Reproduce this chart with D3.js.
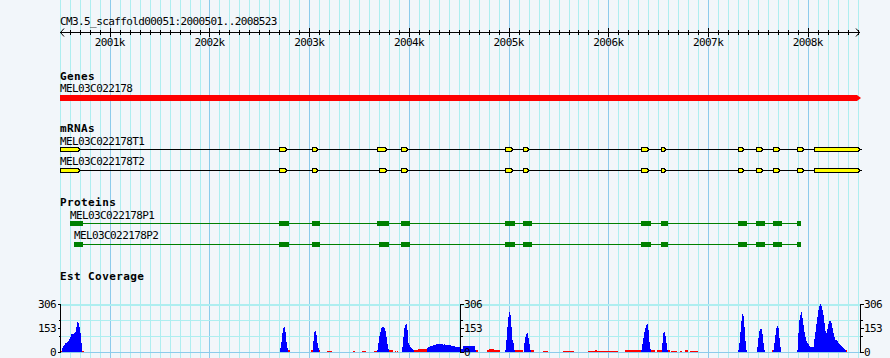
<!DOCTYPE html>
<html><head><meta charset="utf-8">
<script src="https://cdn.jsdelivr.net/npm/d3@7"></script>
<style>
body{margin:0;background:#f2f6fa}
svg{display:block}
.t{font-family:"DejaVu Sans Mono",monospace;font-size:11px;letter-spacing:-0.6px;fill:#000}
.b{font-family:"DejaVu Sans Mono",monospace;font-size:11px;font-weight:bold;letter-spacing:0.4px;fill:#000}
</style>
</head><body><svg id="c" width="890" height="358"></svg>
<script>
// ---------- data ----------
const regionName = "CM3.5_scaffold00051";
const regionStart = 2000501;
const regionEnd = 2008523;
const rulerMajorTicks = [2001000, 2002000, 2003000, 2004000, 2005000, 2006000, 2007000, 2008000];
const rulerTickLabels = ["2001k", "2002k", "2003k", "2004k", "2005k", "2006k", "2007k", "2008k"];
const trackTitles = ["Genes", "mRNAs", "Proteins", "Est Coverage"];

const geneName = "MEL03C022178";
const geneSpan = [2000501, 2008523];

const mrnaNames = ["MEL03C022178T1", "MEL03C022178T2"];
const mrnaSpan = [2000501, 2008523];
const mrnaT1Exons = [[2000501,2000702],[2002697,2002777],[2003028,2003091],[2003680,2003777],[2003920,2003988],[2004963,2005046],[2005147,2005207],[2006327,2006410],[2006528,2006578],[2007303,2007363],[2007483,2007550],[2007651,2007721],[2007891,2007962],[2008062,2008523]];
const mrnaT2Exons = [[2000501,2000702],[2002697,2002777],[2003028,2003091],[2003703,2003777],[2003920,2003988],[2004963,2005046],[2005147,2005207],[2006327,2006410],[2006528,2006578],[2007303,2007363],[2007483,2007550],[2007651,2007721],[2007891,2007962],[2008062,2008523]];

const proteinNames = ["MEL03C022178P1", "MEL03C022178P2"];
const proteinP1Cds = [[2000601,2000729],[2002700,2002797],[2003028,2003108],[2003680,2003800],[2003920,2004011],[2004963,2005063],[2005147,2005234],[2006327,2006427],[2006528,2006598],[2007303,2007390],[2007483,2007570],[2007651,2007741],[2007891,2007931]];
const proteinP2Cds = [[2000641,2000729],[2002700,2002797],[2003028,2003108],[2003703,2003800],[2003920,2004011],[2004963,2005063],[2005147,2005234],[2006327,2006427],[2006528,2006598],[2007303,2007390],[2007483,2007570],[2007651,2007741],[2007891,2007931]];

const coverageMax = 306;
const coverageTickLabels = [0, 153, 306];
const coverageMinorTicks = [102, 204];
const coverageBin = 10; // bp per value
const estPeakStarts = [2000521, 2002707, 2003038, 2003680, 2003930, 2004181, 2004963, 2005154, 2006327, 2006538, 2007300, 2007490, 2007651, 2007891];
const estPeakValues = [
  [23,38,45,55,60,66,72,81,98,115,115,115,122,130,161,193,183,157,119,60],
  [23,66,119,151,161,130,66,23],
  [70,125,136,110,60,25],
  [15,55,100,130,150,160,161,150,136,95,50,20],
  [30,98,150,172,178,140,60,45,34,28,20,13],
  [28,34,34,38,40,40,42,44,46,48,48,50,50,48,50,48,46,48,46,45,45,44,42,42,40,40,38,36,32,30,30,32,30,24,22,22,38,40,40,40,40,40,40,40,38,38,38,38,15],
  [15,76,161,225,255,236,161,76,55,15],
  [55,98,115,119,90,50,15],
  [13,50,90,125,151,172,176,140,65,20],
  [60,120,127,105,55,15],
  [13,60,130,200,245,230,160,70,15],
  [30,90,135,148,145,115,55,15],
  [13,55,110,150,168,150,90,30],
  [13,120,204,236,257,215,170,130,95,70,58,48,40,34,31,30,35,85,130,180,225,270,295,306,295,270,235,185,135,122,145,180,200,200,185,150,120,95,76,74,72,60,52,45,38,34,25,18,10]
];
// low-depth coverage segments: [start, end, value]
const estLowSegments = [[2000501,2000521,8],[2000722,2000742,6],[2002787,2002807,12],[2003018,2003038,15],[2003088,2003108,12],[2003178,2003229,8],[2003439,2003459,8],[2003529,2003569,8],[2003650,2003680,8],[2003790,2003840,13],[2003860,2003870,8],[2003880,2003890,8],[2004041,2004091,15],[2004091,2004181,20],[2004662,2004692,13],[2004783,2004913,13],[2004803,2004853,17],[2005054,2005144,13],[2005214,2005254,10],[2005344,2005394,8],[2005545,2005655,8],[2005796,2006096,8],[2005866,2005886,13],[2006167,2006327,10],[2006197,2006237,15],[2006417,2006467,10],[2006487,2006538,10],[2006588,2006618,10],[2006628,2006688,8],[2006718,2006738,8],[2006768,2006798,12],[2006818,2006898,8],[2007370,2007390,10],[2007641,2007661,10],[2008333,2008393,15]];

// ---------- drawing ----------
const svg = d3.select("#c");
const W = 890, H = 358;
svg.append("rect").attr("width", W).attr("height", H).attr("fill", "#f2f6fa");

const x = d3.scaleLinear().domain([regionStart, regionEnd]).range([60, 860]);
const px = v => Math.round(x(v)) + 0.5;

// vertical grid
const gridTicks = d3.range(Math.ceil((regionStart - 1) / 100) * 100, regionEnd + 1, 100);
const grid = svg.append("g").attr("shape-rendering", "crispEdges");
grid.selectAll("line").data(gridTicks).join("line")
  .attr("x1", d => px(d)).attr("x2", d => px(d))
  .attr("y1", 0).attr("y2", H)
  .attr("stroke", d => d % 1000 === 0 ? "#8ccbeb" : "#aeeef0").attr("stroke-width", 1);

// coverage y scale + horizontal grid
const y = d3.scaleLinear().domain([0, coverageMax]).range([352, 304]);
const hgrid = [0, ...coverageMinorTicks, coverageMax];
grid.selectAll("line.h").data(hgrid).join("line").attr("class", "h")
  .attr("x1", 60).attr("x2", 860)
  .attr("y1", d => Math.round(y(d)) + 0.5).attr("y2", d => Math.round(y(d)) + 0.5)
  .attr("stroke", d => d === 0 ? "#8ccbeb" : "#aeeef0")
  .attr("stroke-width", d => d === coverageMax ? 2 : 1);

// title + ruler
svg.append("text").attr("class", "t").attr("x", 60).attr("y", 25)
  .text(`${regionName}:${regionStart}..${regionEnd}`);
const ruler = svg.append("g").attr("shape-rendering", "crispEdges");
ruler.append("line").attr("x1", 60).attr("x2", 860).attr("y1", 32.5).attr("y2", 32.5).attr("stroke", "#000");
const minorTicks = gridTicks.filter(d => d % 1000 !== 0 && d >= regionStart);
ruler.selectAll("line.mi").data(minorTicks).join("line").attr("class", "mi")
  .attr("x1", d => px(d)).attr("x2", d => px(d)).attr("y1", 30).attr("y2", 35).attr("stroke", "#000");
ruler.selectAll("line.ma").data(rulerMajorTicks).join("line").attr("class", "ma")
  .attr("x1", d => px(d)).attr("x2", d => px(d)).attr("y1", 28).attr("y2", 37).attr("stroke", "#000");
svg.selectAll("text.rl").data(rulerMajorTicks).join("text").attr("class", "t rl")
  .attr("x", d => x(d)).attr("y", 46).attr("text-anchor", "middle")
  .text((d, i) => rulerTickLabels[i]);
svg.append("path").attr("d", "M64,28.5L60.5,32.5L64,36.5").attr("fill", "none").attr("stroke", "#000");
svg.append("path").attr("d", "M856,28.5L859.5,32.5L856,36.5").attr("fill", "none").attr("stroke", "#000");

// track titles
const titleY = [80, 132, 205.5, 280];
trackTitles.forEach((t, i) => svg.append("text").attr("class", "b").attr("x", 60).attr("y", titleY[i]).text(t));

// gene
svg.append("text").attr("class", "t").attr("x", x(geneSpan[0])).attr("y", 92).text(geneName);
{
  const x0 = x(geneSpan[0]), x1 = x(geneSpan[1]);
  svg.append("path").attr("fill", "#ff0000")
    .attr("d", `M${x0},95L${x1 - 3},95L${x1 + 1},98L${x1 - 3},101L${x0},101Z`);
}

// mRNAs
function drawMrna(exons, label, labelY, cy) {
  svg.append("text").attr("class", "t").attr("x", x(mrnaSpan[0])).attr("y", labelY).text(label);
  svg.append("line").attr("x1", x(mrnaSpan[0])).attr("x2", x(mrnaSpan[1]))
    .attr("y1", cy).attr("y2", cy).attr("stroke", "#000").attr("shape-rendering", "crispEdges");
  svg.append("g").attr("shape-rendering", "crispEdges").selectAll("path").data(exons).join("path")
    .attr("fill", "#ffff00").attr("stroke", "#000").attr("stroke-width", 1)
    .attr("d", d => {
      const a = Math.round(x(d[0])) + 0.5, b = Math.round(x(d[1])) + 0.5;
      const t = 2;
      return `M${a},${cy - 2}L${b - t},${cy - 2}L${b - t},${cy - 1}L${b},${cy}L${b - t},${cy + 1}L${b - t},${cy + 2}L${a},${cy + 2}Z`;
    });
}
drawMrna(mrnaT1Exons, mrnaNames[0], 144.5, 149.5);
drawMrna(mrnaT2Exons, mrnaNames[1], 165, 170.5);

// proteins
function drawProtein(cds, label, labelY, cy) {
  const s = cds[0][0], e = cds[cds.length - 1][1];
  svg.append("text").attr("class", "t").attr("x", x(s)).attr("y", labelY).text(label);
  svg.append("line").attr("x1", x(s)).attr("x2", x(e)).attr("y1", cy).attr("y2", cy)
    .attr("stroke", "#008000").attr("shape-rendering", "crispEdges");
  svg.append("g").attr("shape-rendering", "crispEdges").selectAll("rect").data(cds).join("rect")
    .attr("x", d => Math.round(x(d[0]))).attr("width", d => Math.round(x(d[1])) - Math.round(x(d[0])))
    .attr("y", cy - 3).attr("height", 5).attr("fill", "#008000");
}
drawProtein(proteinP1Cds, proteinNames[0], 218.5, 223.5);
drawProtein(proteinP2Cds, proteinNames[1], 239, 244.5);

// coverage
const cov = svg.append("g").attr("shape-rendering", "crispEdges");
cov.selectAll("rect.lo").data(estLowSegments).join("rect").attr("class", "lo")
  .attr("x", d => Math.round(x(d[0]))).attr("width", d => Math.max(1, Math.round(x(d[1])) - Math.round(x(d[0]))))
  .attr("y", d => Math.round(y(d[2]))).attr("height", d => Math.round(y(0)) - Math.round(y(d[2])))
  .attr("fill", "#ff0000");
const bins = [];
estPeakStarts.forEach((s, p) => estPeakValues[p].forEach((v, i) => bins.push({ pos: s + i * coverageBin, v })));
cov.selectAll("rect.hi").data(bins).join("rect").attr("class", "hi")
  .attr("x", d => Math.round(x(d.pos)))
  .attr("width", d => Math.max(1, Math.round(x(d.pos + coverageBin)) - Math.round(x(d.pos))))
  .attr("y", d => Math.round(y(d.v))).attr("height", d => Math.round(y(0)) - Math.round(y(d.v)))
  .attr("fill", "#0000ff");

// coverage axes (left, middle, right)
const axX = [60, 460, 860];
axX.forEach((ax, k) => {
  const dir = k === 0 ? -1 : 1;
  const g = svg.append("g").attr("shape-rendering", "crispEdges");
  g.append("line").attr("x1", ax + 0.5).attr("x2", ax + 0.5).attr("y1", Math.round(y(coverageMax))).attr("y2", Math.round(y(0)) + 1).attr("stroke", "#000");
  g.selectAll("line.M").data(coverageTickLabels).join("line").attr("class", "M")
    .attr("x1", ax + 0.5).attr("x2", ax + 0.5 + dir * 3)
    .attr("y1", d => Math.round(y(d)) + 0.5).attr("y2", d => Math.round(y(d)) + 0.5).attr("stroke", "#000");
  g.selectAll("line.m").data(coverageMinorTicks).join("line").attr("class", "m")
    .attr("x1", ax + 0.5).attr("x2", ax + 0.5 + dir * 2)
    .attr("y1", d => Math.round(y(d)) + 0.5).attr("y2", d => Math.round(y(d)) + 0.5).attr("stroke", "#000");
  svg.selectAll(null).data(coverageTickLabels).join("text").attr("class", "t")
    .attr("x", ax + dir * 4)
    .attr("y", d => y(d) + 4)
    .attr("text-anchor", k === 0 ? "end" : "start")
    .text(d => d);
});
</script>
</body></html>
